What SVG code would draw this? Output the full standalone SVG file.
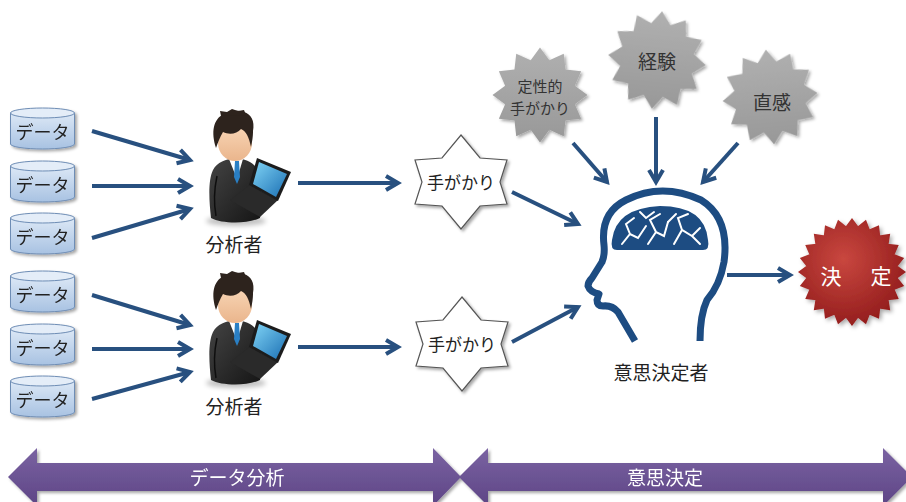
<svg xmlns="http://www.w3.org/2000/svg" xmlns:xlink="http://www.w3.org/1999/xlink" width="906" height="502" viewBox="0 0 906 502">
  <style>
    text { font-family: "Noto Sans CJK JP", "Noto Sans", sans-serif; }
    .lbl { font-size: 19px; fill: #222; text-anchor: middle; }
    .db-txt { font-size: 18px; fill: #222; text-anchor: middle; }
    .clue-txt { font-size: 17px; fill: #222; text-anchor: middle; }
    .gray-txt { fill: #333; text-anchor: middle; }
    .band-txt { font-size: 19px; fill: #fff; text-anchor: middle; }
    .conn { stroke: #28507f; stroke-width: 4; fill: none; marker-end: url(#chev); }
    .db-body { fill: url(#dbGrad); stroke: #6e8db5; stroke-width: 1; }
    .db-top { fill: #e4edf8; stroke: #6e8db5; stroke-width: 1; }
    .clue { fill: #fff; stroke: #555; stroke-width: 1.2; stroke-linejoin: miter; }
    .band { fill: url(#bandGrad); }
  </style>
  <defs>
    <marker id="chev" markerUnits="userSpaceOnUse" markerWidth="16" markerHeight="16" refX="12" refY="7" orient="auto" overflow="visible">
      <path d="M0,0 L12,7 L0,14" fill="none" stroke="#28507f" stroke-width="4" stroke-linejoin="miter"/>
    </marker>
    <linearGradient id="dbGrad" x1="0" y1="0" x2="0" y2="1">
      <stop offset="0" stop-color="#dce8f6"/>
      <stop offset="1" stop-color="#a8c2e2"/>
    </linearGradient>
    <linearGradient id="bandGrad" x1="0" y1="0" x2="0" y2="1">
      <stop offset="0" stop-color="#7a63a2"/>
      <stop offset="1" stop-color="#5e4585"/>
    </linearGradient>
    <linearGradient id="suitGrad" x1="0" y1="0" x2="1" y2="1">
      <stop offset="0" stop-color="#444"/>
      <stop offset="1" stop-color="#151515"/>
    </linearGradient>
    <linearGradient id="skinGrad" x1="0" y1="0" x2="0" y2="1">
      <stop offset="0" stop-color="#f8d6b6"/>
      <stop offset="1" stop-color="#eab58c"/>
    </linearGradient>
    <linearGradient id="screenGrad" x1="0" y1="0" x2="1" y2="1">
      <stop offset="0" stop-color="#7fd3f5"/>
      <stop offset="1" stop-color="#1b6fb3"/>
    </linearGradient>
    <linearGradient id="grayGrad" x1="0" y1="0" x2="0" y2="1">
      <stop offset="0" stop-color="#b0b0b0"/>
      <stop offset="1" stop-color="#989898"/>
    </linearGradient>
    <radialGradient id="redGrad" cx="0.42" cy="0.38" r="0.65">
      <stop offset="0" stop-color="#c9473f"/>
      <stop offset="1" stop-color="#921c1c"/>
    </radialGradient>
    <filter id="shadow" x="-20%" y="-20%" width="150%" height="150%">
      <feDropShadow dx="2" dy="2" stdDeviation="1.8" flood-color="#000" flood-opacity="0.35"/>
    </filter>
    <filter id="soft" x="-30%" y="-100%" width="160%" height="300%">
      <feGaussianBlur stdDeviation="2.5"/>
    </filter>

    <!-- 12-point burst, outer radius 50, inner 38 -->
    <path id="burst12" d="M0,-50 L9.83,-36.7 L25,-43.3 L26.87,-26.87 L43.3,-25 L36.7,-9.83 L50,0 L36.7,9.83 L43.3,25 L26.87,26.87 L25,43.3 L9.83,36.7 L0,50 L-9.83,36.7 L-25,43.3 L-26.87,26.87 L-43.3,25 L-36.7,9.83 L-50,0 L-36.7,-9.83 L-43.3,-25 L-26.87,-26.87 L-25,-43.3 L-9.83,-36.7 Z"/>

    <!-- 24-point burst: union of the 12-point burst and its 15-degree twin -->
    <path id="burst24" d="M0,-50 L9.83,-36.7 L25,-43.3 L26.87,-26.87 L43.3,-25 L36.7,-9.83 L50,0 L36.7,9.83 L43.3,25 L26.87,26.87 L25,43.3 L9.83,36.7 L0,50 L-9.83,36.7 L-25,43.3 L-26.87,26.87 L-43.3,25 L-36.7,9.83 L-50,0 L-36.7,-9.83 L-43.3,-25 L-26.87,-26.87 L-25,-43.3 L-9.83,-36.7 Z M0,-38 L12.94,-48.3 L19,-32.91 L35.36,-35.36 L32.91,-19 L48.3,-12.94 L38,0 L48.3,12.94 L32.91,19 L35.36,35.36 L19,32.91 L12.94,48.3 L0,38 L-12.94,48.3 L-19,32.91 L-35.36,35.36 L-32.91,19 L-48.3,12.94 L-38,0 L-48.3,-12.94 L-32.91,-19 L-35.36,-35.36 L-19,-32.91 L-12.94,-48.3 Z"/>

    <!-- six-point clue star -->
    <path id="hexstar" d="M0,-47 L19,-24 L46,-22 L39,0 L46,22 L19,24 L0,47 L-19,24 L-46,22 L-39,0 L-46,-22 L-19,-24 Z"/>

    <!-- database cylinder, top ellipse centred at (0,0) -->
    <g id="cyl">
      <path class="db-body" d="M-32,0 L-32,31 A32,5 0 0 0 32,31 L32,0 Z"/>
      <ellipse class="db-top" cx="0" cy="0" rx="32" ry="5"/>
    </g>

    <!-- analyst with laptop -->
    <g id="analyst">
      <ellipse cx="236" cy="221" rx="30" ry="5" fill="#000" opacity="0.25" filter="url(#soft)"/>
      <path d="M211,218 C209,200 208,180 213,170 C217,162 226,159 235,158 C246,159 255,162 258,172 C262,185 262,205 260,218 C248,224 222,224 211,218 Z" fill="url(#suitGrad)"/>
      <path d="M217,176 C214,190 214,205 216,216" stroke="#0e0e0e" stroke-width="1.5" fill="none"/>
      <polygon points="229,159 243,159 237,179" fill="#fff"/>
      <polygon points="235,161 239,161 240,177 237,184 234,177" fill="#2a7fc4"/>
      <ellipse cx="235" cy="143" rx="17" ry="18" fill="url(#skinGrad)"/>
      <path d="M216,148 C211,132 213,119 224,114 C230,110 238,110 244,112 C251,114 255,121 253,131 C253,138 252,142 251,147 C249,137 246,131 241,129 C237,134 229,135 223,132 C220,137 218,142 216,148 Z" fill="#2d231d"/>
      <path d="M221,116 L220,111 L227,112 L232,109 L238,111 L244,110 L246,115 Z" fill="#2d231d"/>
      <polygon points="250,185 278,200 260,217 230,200" fill="#2a2a2a"/>
      <polygon points="257,158 291,172 278,201 249,185" fill="#1c1c1c"/>
      <polygon points="259,162 287,174 276,197 253,184" fill="url(#screenGrad)"/>
    </g>
  </defs>

  <!-- bottom phase bands -->
  <g id="band-analysis" filter="url(#shadow)">
    <polygon class="band" points="8,477 37,448 37,463 433,463 433,448 461,477 433,506 433,491 37,491 37,506"/>
    <text class="band-txt" x="237" y="485">データ分析</text>
  </g>
  <g id="band-decision" filter="url(#shadow)">
    <polygon class="band" points="459,477 488,448 488,463 883,463 883,448 912,477 883,506 883,491 488,491 488,506"/>
    <text class="band-txt" x="665" y="485" font-size="20">意思決定</text>
  </g>

  <!-- connectors -->
  <g id="connectors">
    <line class="conn" x1="92" y1="131" x2="190" y2="160"/>
    <line class="conn" x1="92" y1="186" x2="190" y2="186"/>
    <line class="conn" x1="92" y1="238" x2="190" y2="209"/>
    <line class="conn" x1="92" y1="295" x2="190" y2="325"/>
    <line class="conn" x1="92" y1="349" x2="190" y2="349"/>
    <line class="conn" x1="92" y1="399" x2="190" y2="372"/>
    <line class="conn" x1="298" y1="183" x2="398" y2="183"/>
    <line class="conn" x1="298" y1="347" x2="398" y2="347"/>
    <line class="conn" x1="512" y1="192" x2="578" y2="224"/>
    <line class="conn" x1="512" y1="342" x2="578" y2="307"/>
    <line class="conn" x1="573" y1="143" x2="607" y2="182"/>
    <line class="conn" x1="656" y1="117" x2="656" y2="182"/>
    <line class="conn" x1="738" y1="143" x2="703" y2="182"/>
    <line class="conn" x1="727" y1="275" x2="790" y2="275"/>
  </g>

  <!-- data sources -->
  <g id="data-1" filter="url(#shadow)"><use xlink:href="#cyl" transform="translate(42.5,113)"/><text class="db-txt" x="42.5" y="139">データ</text></g>
  <g id="data-2" filter="url(#shadow)"><use xlink:href="#cyl" transform="translate(42.5,166)"/><text class="db-txt" x="42.5" y="192">データ</text></g>
  <g id="data-3" filter="url(#shadow)"><use xlink:href="#cyl" transform="translate(42.5,218)"/><text class="db-txt" x="42.5" y="244">データ</text></g>
  <g id="data-4" filter="url(#shadow)"><use xlink:href="#cyl" transform="translate(42.5,276)"/><text class="db-txt" x="42.5" y="302">データ</text></g>
  <g id="data-5" filter="url(#shadow)"><use xlink:href="#cyl" transform="translate(42.5,329)"/><text class="db-txt" x="42.5" y="355">データ</text></g>
  <g id="data-6" filter="url(#shadow)"><use xlink:href="#cyl" transform="translate(42.5,381)"/><text class="db-txt" x="42.5" y="407">データ</text></g>

  <!-- analysts -->
  <g id="analyst-1">
    <use xlink:href="#analyst"/>
    <text class="lbl" x="234" y="252">分析者</text>
  </g>
  <g id="analyst-2">
    <use xlink:href="#analyst" transform="translate(0,162)"/>
    <text class="lbl" x="234" y="414">分析者</text>
  </g>

  <!-- clues -->
  <g id="clue-1">
    <use xlink:href="#hexstar" class="clue" transform="translate(461,182)" filter="url(#shadow)"/>
    <text class="clue-txt" x="461" y="189">手がかり</text>
  </g>
  <g id="clue-2">
    <use xlink:href="#hexstar" class="clue" transform="translate(462,344)" filter="url(#shadow)"/>
    <text class="clue-txt" x="462" y="351">手がかり</text>
  </g>

  <!-- other inputs -->
  <g id="qualitative">
    <use xlink:href="#burst12" fill="url(#grayGrad)" transform="translate(540,95) scale(0.95)" filter="url(#shadow)"/>
    <text class="gray-txt" x="540" y="92" font-size="15">定性的</text>
    <text class="gray-txt" x="540" y="114" font-size="15">手がかり</text>
  </g>
  <g id="experience">
    <use xlink:href="#burst12" fill="url(#grayGrad)" transform="translate(657,60) rotate(6) scale(0.98)" filter="url(#shadow)"/>
    <text class="gray-txt" x="657" y="69" font-size="19">経験</text>
  </g>
  <g id="intuition">
    <use xlink:href="#burst12" fill="url(#grayGrad)" transform="translate(770,97) rotate(-5) scale(0.95)" filter="url(#shadow)"/>
    <text class="gray-txt" x="772" y="110" font-size="19">直感</text>
  </g>

  <!-- decision maker -->
  <g id="decision-maker">
    <path d="M635,341 L618,312 Q612,305 603,306 Q597,306 597,300 L599,294 Q590,292 588,286 Q588,282 592,278 L602,262 Q605,255 604,245 Q600,213 626,200 Q662,182 701,200 Q730,218 724,262 Q720,285 707,300 Q700,315 700,341" fill="#fff" stroke="#1d4c82" stroke-width="7" stroke-linejoin="round"/>
    <path d="M617,250 Q610,250 612,240 Q616,208 660,206 Q705,206 708,240 Q710,250 703,250 Z" fill="#1d4c82"/>
    <g fill="none" stroke="#fff" stroke-width="2" stroke-linecap="round">
      <path d="M622,244 L630,234 L638,238 L646,226 M630,234 L626,224 L634,218"/>
      <path d="M648,244 L656,232 L664,236 L668,222 M656,232 L650,220 L660,214"/>
      <path d="M674,244 L682,230 L692,236 L700,228 M682,230 L678,218 L688,214 M692,236 L700,244"/>
      <path d="M640,212 L646,218 L654,212 M668,222 L676,214"/>
    </g>
    <text class="lbl" x="661" y="380">意思決定者</text>
  </g>

  <!-- decision -->
  <g id="decision">
    <use xlink:href="#burst24" fill="url(#redGrad)" transform="translate(852,272) scale(1.08)" filter="url(#shadow)"/>
    <text x="831 856 881" y="284" font-size="21" fill="#fff" text-anchor="middle">決　定</text>
  </g>
</svg>
